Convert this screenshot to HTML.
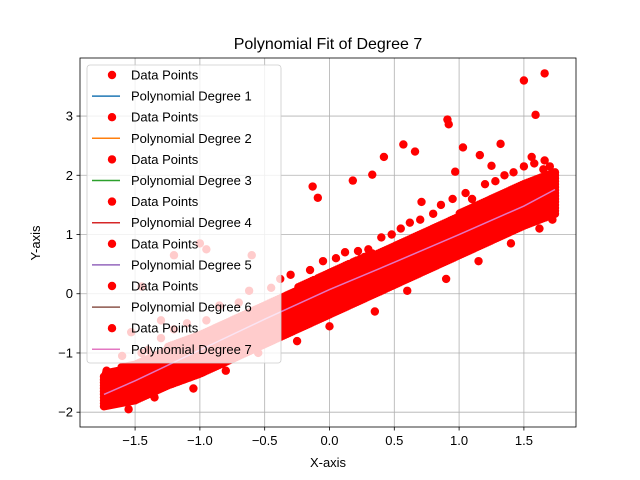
<!DOCTYPE html>
<html><head><meta charset="utf-8"><style>
body{margin:0;background:#fff}
svg{display:block;font-family:"Liberation Sans","DejaVu Sans",sans-serif}
</style></head><body>
<svg id="chart" width="640" height="480" viewBox="0 0 640 480">
<rect width="640" height="480" fill="#fff"/>
<text x="328" y="49" text-anchor="middle" font-size="16">Polynomial Fit of Degree 7</text>
<g id="grid"></g>
<g id="band"></g>
<g id="outliers"></g>
<path id="fitline" fill="none" stroke="#e377c2" stroke-width="1.5"/>
<g id="legend"></g>
<rect x="80" y="58" width="496" height="369" fill="none" stroke="#000" stroke-width="0.8"/>
<g id="xticks"></g><g id="yticks"></g>
<text x="328" y="467" text-anchor="middle" font-size="13">X-axis</text>
<text x="40" y="243" text-anchor="middle" font-size="13" transform="rotate(-90 40 243)">Y-axis</text>
</svg>
<script>
const xTicks=[-1.5,-1.0,-0.5,0.0,0.5,1.0,1.5];
const yTicks=[-2,-1,0,1,2,3];
const bandX=[-1.74,-1.5,-1.25,-1.0,-0.75,-0.5,-0.25,0,0.25,0.5,0.75,1.0,1.25,1.5,1.74];
const bandLow=[-1.9,-1.8,-1.55,-1.35,-1.1,-0.85,-0.6,-0.35,-0.1,0.15,0.4,0.65,0.9,1.15,1.35];
const bandHigh=[-1.35,-1.15,-0.9,-0.65,-0.4,-0.15,0.1,0.35,0.6,0.85,1.1,1.35,1.65,1.9,2.05];
const edgeX=[-1.72,-1.6,-1.45,-1.4,-1.3,-1.2,-1.1,-0.95,-0.85,-0.7,-0.62,-0.45,-0.38,-0.3,-0.15,-0.05,0.05,0.12,0.22,0.3,0.4,0.48,0.55,0.62,0.7,0.8,0.86,0.95,1.05,1.1,1.2,1.28,1.35,1.42,1.5,1.58,1.65,1.7,-1.55,-1.35,-1.05,-0.8,-0.55,-0.25,0.0,0.35,0.6,0.9,1.15,1.4,1.62,1.72];
const edgeY=[-1.3,-1.05,-1.0,-0.95,-0.75,-0.6,-0.5,-0.45,-0.2,-0.15,0.05,0.1,0.25,0.32,0.4,0.55,0.6,0.7,0.72,0.75,0.95,1.0,1.1,1.2,1.25,1.35,1.5,1.6,1.7,1.6,1.85,1.9,2.0,2.05,2.15,2.2,2.1,2.15,-1.95,-1.75,-1.6,-1.3,-1.0,-0.8,-0.55,-0.3,0.05,0.25,0.55,0.85,1.1,1.25];
const outX=[1.5,1.66,1.59,0.91,0.92,1.03,1.32,0.57,0.66,0.42,1.16,0.33,0.18,-0.13,-0.09,0.97,0.71,1.56,1.66,1.25,-1.0,-1.2,-0.6,-1.45,-1.53,-0.95,-1.3];
const outY=[3.6,3.72,3.02,2.94,2.86,2.47,2.53,2.52,2.4,2.31,2.34,2.01,1.91,1.81,1.62,2.06,1.55,2.31,2.25,2.16,0.85,0.65,0.65,0.12,-0.65,0.75,-0.45];
const fitX=[-1.74,-1.5,-1.0,-0.5,0,0.5,1.0,1.5,1.74];
const fitY=[-1.7,-1.47,-0.95,-0.43,0.07,0.53,1.0,1.48,1.76];
const NS="http://www.w3.org/2000/svg";
const X0=80,X1=576,Y0=58,Y1=427;
const xmin=-1.925,xmax=1.902,ymin=-2.25,ymax=3.98;
const sx=v=>X0+(v-xmin)/(xmax-xmin)*(X1-X0);
const sy=v=>Y1-(v-ymin)/(ymax-ymin)*(Y1-Y0);
function mk(t,a,p){const e=document.createElementNS(NS,t);for(const k in a)e.setAttribute(k,a[k]);(p||document.getElementById('chart')).appendChild(e);return e;}
const grid=document.getElementById('grid');
xTicks.forEach(t=>{const x=sx(t);
 const l=mk('line',{x1:x,x2:x,y1:Y0,y2:Y1,stroke:'#b0b0b0','stroke-width':0.8},grid);
 
 
 const g=document.getElementById('xticks');
 mk('line',{x1:x,x2:x,y1:Y1,y2:Y1+3.5,stroke:'#000','stroke-width':0.8},g);
 const tx=mk('text',{x:x,y:Y1+18,'text-anchor':'middle','font-size':13},g);
 tx.textContent=(t<0?'\u2212':'')+Math.abs(t).toFixed(1);
 
 });
yTicks.forEach(t=>{const y=sy(t);
 const l=mk('line',{x1:X0,x2:X1,y1:y,y2:y,stroke:'#b0b0b0','stroke-width':0.8},grid);
 
 
 const g=document.getElementById('yticks');
 mk('line',{x1:X0-3.5,x2:X0,y1:y,y2:y,stroke:'#000','stroke-width':0.8},g);
 const tx=mk('text',{x:X0-7,y:y+4.5,'text-anchor':'end','font-size':13},g);
 tx.textContent=(t<0?'\u2212':'')+Math.abs(t);
 
 });
const band=document.getElementById('band');


function interp(arr,x){for(let i=0;i<bandX.length-1;i++){if(x<=bandX[i+1]){const f=(x-bandX[i])/(bandX[i+1]-bandX[i]);return arr[i]+f*(arr[i+1]-arr[i]);}}return arr[arr.length-1];}
let d='';
const dot=(px,py)=>`M${px-4.2},${py}a4.2,4.2 0 1,0 8.4,0a4.2,4.2 0 1,0 -8.4,0`;
for(let x=bandX[0];x<=bandX[bandX.length-1]+1e-9;x+=0.015){
 const lo=interp(bandLow,x),hi=interp(bandHigh,x);
 const px=sx(x);
 for(let y=lo;y<=hi;y+=0.05){d+=dot(px,sy(y));}
}
edgeX.forEach((x,i)=>{d+=dot(sx(x),sy(edgeY[i]));});
mk('path',{d:d,fill:'#ff0000'},band);
const og=document.getElementById('outliers');
outX.forEach((x,i)=>{const c=mk('circle',{cx:sx(x),cy:sy(outY[i]),r:4.2,fill:'#ff0000'},og);
 
 });
document.getElementById('fitline').setAttribute('d',fitX.map((x,i)=>(i?'L':'M')+sx(x)+','+sy(fitY[i])).join(''));
const lg=document.getElementById('legend');


mk('rect',{x:87,y:65,width:194,height:298,rx:3,fill:'#fff','fill-opacity':0.8,stroke:'#cccccc','stroke-width':0.8},lg);
const cols=['#1f77b4','#ff7f0e','#2ca02c','#d62728','#9467bd','#8c564b','#e377c2'];
for(let i=0;i<14;i++){const y=75+i*21.1;
 if(i%2===0){mk('circle',{cx:112,cy:y,r:4.2,fill:'#ff0000'},lg);}
 else{mk('line',{x1:92,x2:120,y1:y,y2:y,stroke:cols[(i-1)/2],'stroke-width':1.5},lg);}
 const t=mk('text',{x:131,y:y+4.5,'font-size':13},lg);
 t.textContent=i%2===0?'Data Points':'Polynomial Degree '+((i+1)/2);
 
 }
</script>
</body></html>
